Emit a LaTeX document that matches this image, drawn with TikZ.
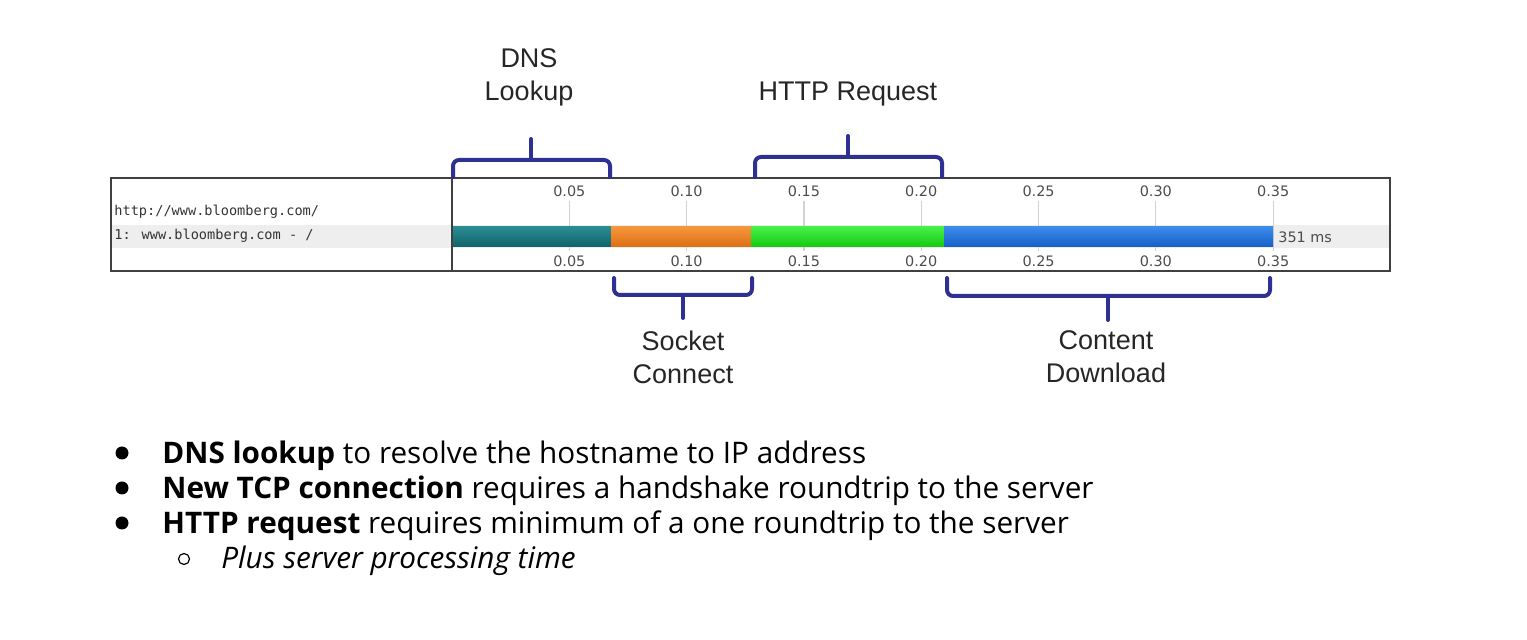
\documentclass[tikz,border=0pt]{standalone}
\usepackage{fontspec}
\setmainfont{Open Sans}
\newfontfamily\labelfont{Liberation Sans}
\newfontfamily\tickfont{DejaVu Sans}
\newfontfamily\urlfont{DejaVu Sans Mono}
\usetikzlibrary{calc}

\definecolor{bracecol}{RGB}{46,49,146}
\definecolor{rowgray}{RGB}{238,238,238}
\definecolor{gridgray}{RGB}{210,210,210}
\definecolor{dnsTop}{RGB}{42,140,146}
\definecolor{dnsBot}{RGB}{14,100,106}
\definecolor{tcpTop}{RGB}{246,150,60}
\definecolor{tcpBot}{RGB}{220,110,20}
\definecolor{reqTop}{RGB}{70,240,70}
\definecolor{reqBot}{RGB}{20,200,20}
\definecolor{dlTop}{RGB}{60,140,235}
\definecolor{dlBot}{RGB}{20,95,200}

\tikzset{
	brace/.style={bracecol, line width=2pt, rounded corners=3pt, line cap=round},
	phase/.style={font=\labelfont\fontsize{13.5}{16.5}\selectfont, align=center, text=black!85, inner sep=0pt},
	ticklabel/.style={font=\tickfont\fontsize{7.2}{8}\selectfont, text=black!70, inner sep=0pt},
	urltext/.style={font=\urlfont\fontsize{6.8}{8}\selectfont, text=black!80, inner sep=0pt, anchor=west},
	bullettext/.style={font=\fontsize{14.85}{17}\selectfont, anchor=base west, inner sep=0pt},
}

\begin{document}
\begin{tikzpicture}[x=0.5pt,y=-0.5pt]
	% Parameters (pixels of the screenshot, y downwards)
	\def\tzero{452}     % x of t = 0
	\def\pxs{2346}      % pixels per second
	\def\boxL{111}
	\def\boxR{1390}
	\def\boxT{178}
	\def\boxB{271}
	
	\useasboundingbox (0,0) rectangle (1527,640);
	
	% Highlighted request row
	\fill[rowgray] (\boxL,225) rectangle (\boxR,248);
	
	% Grid lines and time labels above and below
	\foreach \i/\lab in {1/0.05,2/0.10,3/0.15,4/0.20,5/0.25,6/0.30,7/0.35}{
		\pgfmathsetmacro\xx{\tzero+\i*0.05*\pxs}
		\draw[gridgray, line width=0.6pt] (\xx,201) -- (\xx,251);
		\node[ticklabel] (top\i) at (\xx,191) {\lab};
		\node[ticklabel] (bot\i) at (\xx,261) {\lab};
	}
	
	% Phases of the request
	\foreach \a/\b/\c in {452/611/dns, 611/751/tcp, 751/944/req, 944/1273/dl}{
		\shade[top color=\c Top, bottom color=\c Bot] (\a,227) rectangle (\b,247);
	}
	\node[ticklabel, anchor=west] (total) at (1278,237) {351 ms};
	
	% Frame of the waterfall
	\draw[black!75, line width=1pt] (\boxL,\boxT) rectangle (\boxR,\boxB);
	\draw[black!75, line width=1pt] (\tzero,\boxT) -- (\tzero,\boxB);
	
	% Request names
	\node[urltext] (page) at (114,212) {http://www.bloomberg.com/};
	\node[urltext] (req) at (114,236) {1: www.bloomberg.com - /};
	
	% Braces above
	\draw[brace] (453,177) -- (453,160) -- (610,160) -- (610,177);
	\draw[brace] (531,160) -- (531,139);
	\draw[brace] (755,177) -- (755,157) -- (942,157) -- (942,177);
	\draw[brace] (848,157) -- (848,136);
	
	% Braces below
	\draw[brace] (614,278) -- (614,295) -- (752,295) -- (752,278);
	\draw[brace] (683,295) -- (683,318);
	\draw[brace] (947,278) -- (947,296) -- (1270,296) -- (1270,278);
	\draw[brace] (1108,296) -- (1108,320);
	
	% Phase names
	\node[phase] (dns) at (529,77) {DNS\\Lookup};
	\node[phase] (http) at (848,94) {HTTP Request};
	\node[phase] (sock) at (683,357) {Socket\\Connect};
	\node[phase] (cont) at (1106,357) {Content\\Download};
	
	% Notes
	\foreach \n/\y in {1/453,2/488,3/523}{
		\node[circle, fill, inner sep=0pt, minimum size=6.5pt] (dot\n) at (122,\y) {};
	}
	\node[bullettext] (note1) at (162,464) {\textbf{DNS lookup} to resolve the hostname to IP address};
	\node[bullettext] (note2) at (162,499) {\textbf{New TCP connection} requires a handshake roundtrip to the server};
	\node[bullettext] (note3) at (162,534) {\textbf{HTTP request} requires minimum of a one roundtrip to the server};
	\node[circle, draw, line width=0.6pt, inner sep=0pt, minimum size=5.5pt] (ring) at (184,559) {};
	\node[bullettext] (note4) at (221,569) {\textit{Plus server processing time}};
\end{tikzpicture}
\end{document}
